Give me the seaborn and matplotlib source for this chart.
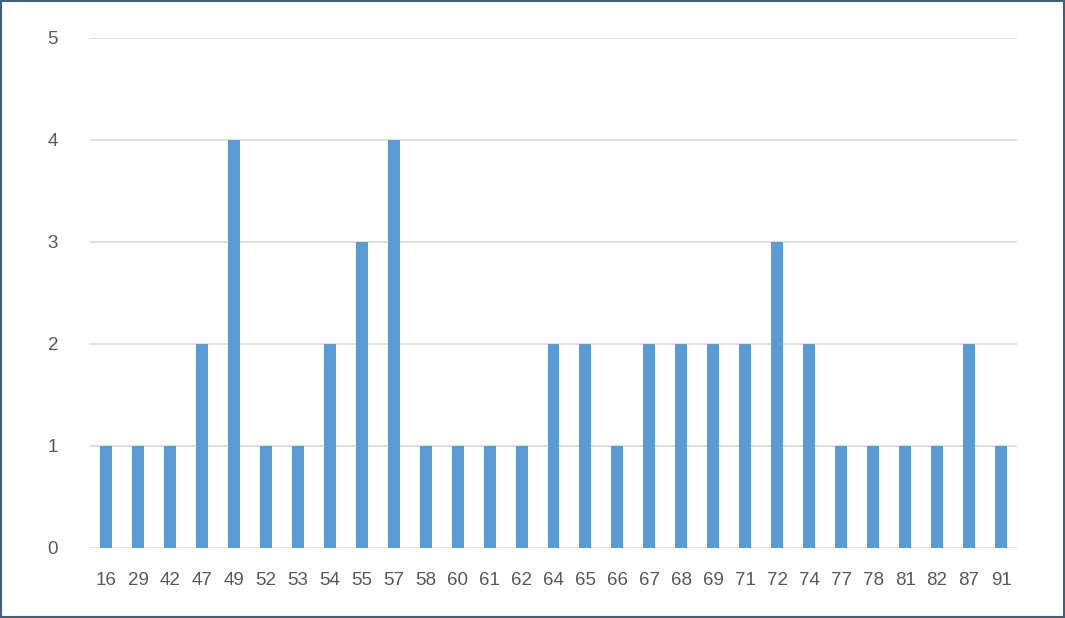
import seaborn as sns
import matplotlib.pyplot as plt
import pandas as pd
from matplotlib.patches import Rectangle

# chart data
categories = ["16", "29", "42", "47", "49", "52", "53", "54", "55", "57", "58", "60", "61", "62", "64",
              "65", "66", "67", "68", "69", "71", "72", "74", "77", "78", "81", "82", "87", "91"]
counts = [1, 1, 1, 2, 4, 1, 1, 2, 3, 4, 1, 1, 1, 1, 2,
          2, 1, 2, 2, 2, 2, 3, 2, 1, 1, 1, 1, 2, 1]
y_ticks = [0, 1, 2, 3, 4, 5]

df = pd.DataFrame({"category": categories, "count": counts})

sns.set_style("white")
plt.rcParams["font.family"] = ["Liberation Sans", "DejaVu Sans"]

fig = plt.figure(figsize=(10.65, 6.18), dpi=100)
ax = fig.add_axes([90 / 1065, 1 - 548 / 618, 927 / 1065, 510 / 618])

# gridlines behind bars
for t in y_ticks:
    ax.axhline(t, color="#D9D9D9", linewidth=1.2, zorder=0)

sns.barplot(data=df, x="category", y="count", order=categories, color="#5B9BD5",
            saturation=1, width=0.375, linewidth=0, ax=ax, zorder=2)

ax.set_ylim(0, 5)
ax.set_xlim(-0.5, len(categories) - 0.5)
ax.set_yticks(y_ticks)
ax.set_xlabel("")
ax.set_ylabel("")
for s in ax.spines.values():
    s.set_visible(False)
ax.tick_params(axis="both", length=0, labelsize=13.5, colors="#595959")
ax.tick_params(axis="y", pad=23)
ax.tick_params(axis="x", pad=17)

# outer frame of the chart
fig.patches.append(Rectangle((0.001, 0.001), 0.998, 0.997, transform=fig.transFigure,
                             fill=False, edgecolor="#41607F", linewidth=1.5))

fig.savefig("out.png", dpi=100)
